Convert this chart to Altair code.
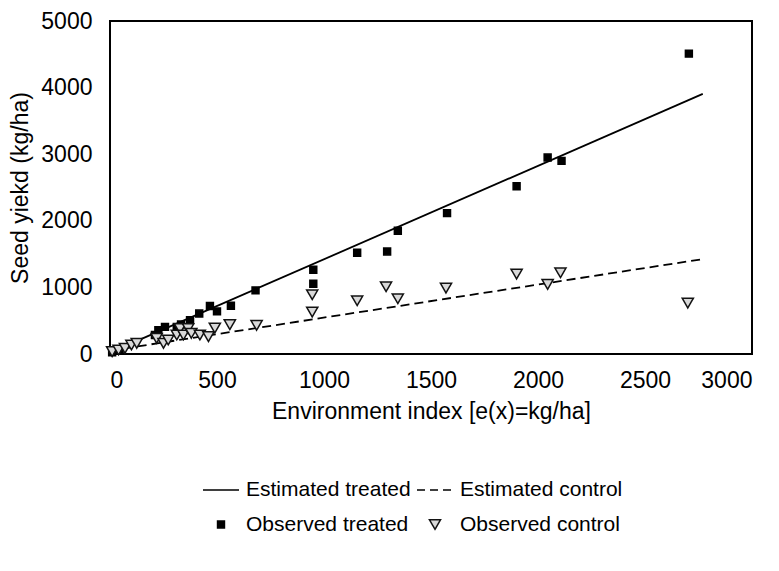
import altair as alt
import pandas as pd

# Observed treated (environment index, seed yield)
treated_x = [10, 45, 210, 226, 257, 312, 332, 374, 417, 467, 500, 565, 680,
             950, 950, 1155, 1295, 1345, 1575, 1900, 2045, 2110, 2705]
treated_y = [25, 50, 284, 358, 407, 407, 443, 507, 607, 720, 640, 725, 955,
             1265, 1055, 1520, 1540, 1850, 2115, 2520, 2950, 2900, 4510]

# Observed control
control_x = [10, 40, 70, 100, 125, 218, 250, 272, 312, 327, 343, 365, 380, 420,
             460, 490, 560, 685, 945, 945, 1155, 1290, 1345, 1570, 1900, 2045,
             2105, 2700]
control_y = [35, 60, 85, 135, 160, 235, 160, 210, 285, 380, 285, 380, 310, 285,
             260, 390, 440, 430, 890, 630, 800, 1010, 830, 990, 1200, 1045,
             1220, 765]

# Estimated regression lines (end points)
line_x = [0, 2770]
est_treated = [20, 3905]
est_control = [50, 1425]

# legend order (filled column by column: treated pair, then control pair)
series_names = ["Estimated treated", "Observed treated",
                "Estimated control", "Observed control"]
x_ticks = [0, 500, 1000, 1500, 2000, 2500, 3000]
y_ticks = [0, 1000, 2000, 3000, 4000, 5000]

FONT = "Liberation Sans"

pts = pd.concat([
    pd.DataFrame({"x": treated_x, "y": treated_y, "series": "Observed treated"}),
    pd.DataFrame({"x": control_x, "y": control_y, "series": "Observed control"}),
], ignore_index=True)
lt = pd.DataFrame({"x": line_x, "y": est_treated})
lc = pd.DataFrame({"x": line_x, "y": est_control})

xenc = alt.X("x:Q", scale=alt.Scale(domain=[0, 3000], nice=False),
             axis=alt.Axis(values=x_ticks, format="d",
                           title="Environment index [e(x)=kg/ha]",
                           labelPadding=15, titlePadding=8))
yenc = alt.Y("y:Q", scale=alt.Scale(domain=[0, 5000], nice=False),
             axis=alt.Axis(values=y_ticks, format="d", title="Seed yiekd (kg/ha)",
                           labelPadding=18, titlePadding=8))

line_t = alt.Chart(lt).mark_line(color="black", strokeWidth=1.8).encode(x=xenc, y=yenc)
line_c = alt.Chart(lc).mark_line(color="black", strokeWidth=1.8,
                                  strokeDash=[9, 5]).encode(x=xenc, y=yenc)

dom = series_names
shape_by = {"Estimated treated": "M-1,0L1,0", "Estimated control": "M-1,0L1,0",
            "Observed treated": "square", "Observed control": "triangle-down"}
size_by = {"Estimated treated": 1296, "Estimated control": 1296,
           "Observed treated": 48, "Observed control": 125}
fill_by = {"Estimated treated": "transparent", "Estimated control": "transparent",
           "Observed treated": "black", "Observed control": "#d9d9d9"}
stroke_by = {"Estimated treated": "black", "Estimated control": "black",
             "Observed treated": "black", "Observed control": "#111111"}
dash_by = {"Estimated treated": [1, 0], "Estimated control": [8, 5],
           "Observed treated": [1, 0], "Observed control": [1, 0]}

points = alt.Chart(pts).mark_point(filled=True, opacity=1, strokeWidth=1.5).encode(
    x=xenc, y=yenc,
    shape=alt.Shape("series:N", scale=alt.Scale(
        domain=dom, range=[shape_by[s] for s in dom]),
        legend=alt.Legend(title=None)),
    size=alt.Size("series:N", scale=alt.Scale(
        type="ordinal", domain=dom, range=[size_by[s] for s in dom]),
        legend=alt.Legend(title=None)),
    fill=alt.Fill("series:N", scale=alt.Scale(
        domain=dom, range=[fill_by[s] for s in dom]),
        legend=alt.Legend(title=None)),
    stroke=alt.Stroke("series:N", scale=alt.Scale(
        domain=dom, range=[stroke_by[s] for s in dom]),
        legend=alt.Legend(title=None)),
    strokeDash=alt.StrokeDash("series:N", scale=alt.Scale(
        domain=dom, range=[dash_by[s] for s in dom]),
        legend=alt.Legend(title=None)),
)

chart = alt.layer(line_t, line_c, points).properties(
    width=642, height=333,
    autosize="none",
    padding={"left": 102, "top": 13, "right": 10, "bottom": 200},
).configure_view(
    stroke="black", strokeWidth=2
).configure_axis(
    grid=False, ticks=False, domain=False,
    labelFont=FONT, labelFontSize=23, labelColor="black",
    titleFont=FONT, titleFontSize=23, titleColor="black", titleFontWeight="normal",
).configure_legend(
    orient="none", legendX=92, legendY=450, columns=2,
    labelFont=FONT, labelFontSize=21, labelColor="black", labelLimit=400,
    symbolStrokeWidth=1.5, rowPadding=13, columnPadding=3, labelOffset=6,
    symbolOpacity=1,
)

chart.save("out.html", embed_options={"renderer": "svg", "actions": False})
